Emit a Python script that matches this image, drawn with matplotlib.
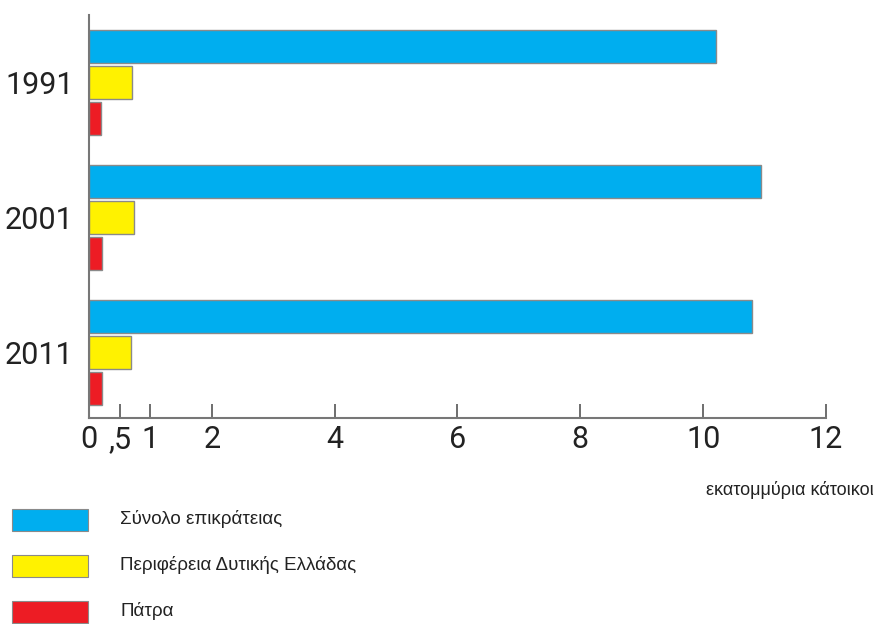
import numpy as np
import matplotlib.pyplot as plt
from matplotlib.patches import Rectangle

years = ['1991', '2001', '2011']
total = [10.21, 10.94, 10.80]      # Σύνολο επικράτειας
west_greece = [0.70, 0.73, 0.68]   # Περιφέρεια Δυτικής Ελλάδας
patra = [0.20, 0.21, 0.21]         # Πάτρα

series_names = ['Σύνολο επικράτειας', 'Περιφέρεια Δυτικής Ελλάδας', 'Πάτρα']
colors = ['#00AEEF', '#FFF200', '#ED1C24']

xticks = [0, 0.5, 1, 2, 4, 6, 8, 10, 12]
xticklabels = ['0', ',5', '1', '2', '4', '6', '8', '10', '12']

plt.rcParams['font.family'] = ['Roboto', 'DejaVu Sans']

fig = plt.figure(figsize=(8.76, 6.24), dpi=100)
ax = fig.add_axes([0.1016, 0.330, 0.8413, 0.646])

centers = np.arange(len(years)) * 3.75
bar_h = 0.92
for k, vals in enumerate([total, west_greece, patra]):
    ax.barh(centers + (k - 1), vals, height=bar_h, color=colors[k],
            edgecolor='#8a8a8a', linewidth=1.0)

ax.set_xlim(0, 12)
ax.set_ylim(9.32, -1.875)
ax.set_xticks(xticks)
ax.set_xticklabels(xticklabels, fontsize=22, color='#222222')
ax.set_yticks(centers)
ax.set_yticklabels(years, fontsize=22, color='#222222')
ax.tick_params(axis='x', direction='in', length=10, width=1.2, color='#555555', pad=5)
ax.tick_params(axis='y', length=0, pad=11)
for s in ['top', 'right']:
    ax.spines[s].set_visible(False)
for s in ['left', 'bottom']:
    ax.spines[s].set_color('#777777')
    ax.spines[s].set_linewidth(1.5)

fig.text(0.998, 0.215, 'εκατομμύρια κάτοικοι', ha='right', va='center',
         fontsize=13, color='#222222', family=['Liberation Sans', 'DejaVu Sans'])

# legend drawn as patches in figure coordinates
leg_top = [509, 555, 601]
for k, name in enumerate(series_names):
    y0 = 1 - (leg_top[k] + 22) / 624
    fig.patches.append(Rectangle((12 / 876, y0), 76 / 876, 22 / 624,
                                 transform=fig.transFigure, facecolor=colors[k],
                                 edgecolor='#8a8a8a', linewidth=0.8))
    fig.text(120 / 876, y0 + 12 / 624, name, ha='left', va='center',
             fontsize=13.5, color='#222222', family=['Liberation Sans', 'DejaVu Sans'])

fig.savefig('out.png', dpi=100)
